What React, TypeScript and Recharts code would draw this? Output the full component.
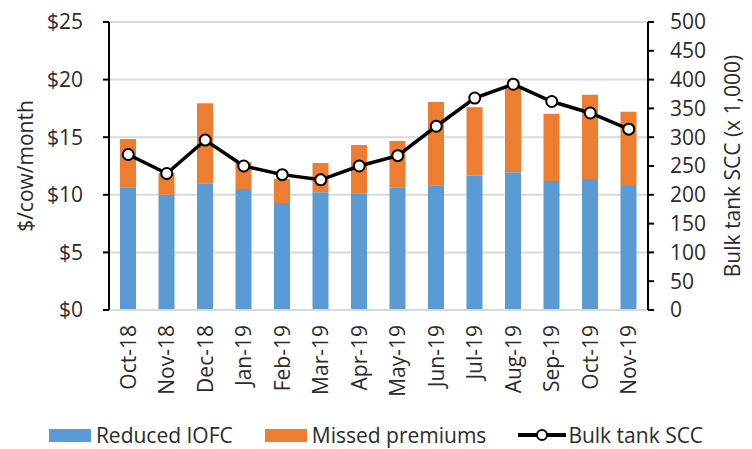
import React from 'react'
import { ComposedChart, Bar, Line, XAxis, YAxis, CartesianGrid, Legend } from 'recharts'

const months = ['Oct-18', 'Nov-18', 'Dec-18', 'Jan-19', 'Feb-19', 'Mar-19', 'Apr-19', 'May-19', 'Jun-19', 'Jul-19', 'Aug-19', 'Sep-19', 'Oct-19', 'Nov-19']
const reducedIOFC = [10.65, 10.0, 10.96, 10.5, 9.29, 10.22, 10.13, 10.65, 10.82, 11.66, 11.95, 11.2, 11.37, 10.76]
const missedPremiums = [4.19, 1.9, 6.98, 2.32, 2.08, 2.54, 4.19, 4.02, 7.24, 5.93, 7.29, 5.84, 7.32, 6.45]
const bulkTankSCC = [270, 237, 295, 250, 235, 226, 250, 268, 319, 368, 392, 362, 342, 314]

const leftTicks = [0, 5, 10, 15, 20, 25]
const rightTicks = [0, 50, 100, 150, 200, 250, 300, 350, 400, 450, 500]
const legendOrder = ['Reduced IOFC', 'Missed premiums', 'Bulk tank SCC']

const data = months.map((m, i) => ({
  month: m,
  reduced: reducedIOFC[i],
  missed: missedPremiums[i],
  scc: bulkTankSCC[i],
}))

const FONT = '"Open Sans", sans-serif'
const FS = 21
const TEXT = '#2b2b2b'
const BLUE = '#5B9BD5'
const ORANGE = '#ED7D31'

const MonthTick = (props: any) => {
  const { x, y, payload } = props
  return (
    <g transform={`translate(${x},${y + 7})`}>
      <text x={0} y={0} dy="0.35em" textAnchor="end" transform="rotate(-90)" fill={TEXT} fontSize={FS} fontFamily={FONT}>
        {payload.value}
      </text>
    </g>
  )
}

const axisTitle = (text: string, dx: number) => (props: any) => {
  const { viewBox } = props
  const cx = viewBox.x + dx
  const cy = viewBox.y + viewBox.height / 2
  return (
    <text x={cx} y={cy} textAnchor="middle" dominantBaseline="central" transform={`rotate(-90, ${cx}, ${cy})`} fill={TEXT} fontSize={FS} fontFamily={FONT}>
      {text}
    </text>
  )
}

const renderLegend = (props: any) => {
  const items = [...props.payload].sort((a: any, b: any) => legendOrder.indexOf(a.value) - legendOrder.indexOf(b.value))
  return (
    <div style={{ display: 'flex', justifyContent: 'center', alignItems: 'center', height: 28, fontFamily: FONT, fontSize: FS, color: TEXT }}>
      {items.map((entry: any, i: number) => (
        <div key={i} style={{ display: 'flex', alignItems: 'center', marginLeft: i === 0 ? 0 : 32 }}>
          {entry.type === 'line' ? (
            <svg width={48} height={14} style={{ marginRight: 2 }}>
              <line x1={0} y1={7} x2={48} y2={7} stroke="#000" strokeWidth={4} />
              <circle cx={24} cy={7} r={5} fill="#fff" stroke="#000" strokeWidth={2} />
            </svg>
          ) : (
            <div style={{ width: 42, height: 13, background: entry.color, marginRight: 5 }} />
          )}
          <span>{entry.value}</span>
        </div>
      ))}
    </div>
  )
}

export default function App() {
  return (
    <div style={{ position: 'absolute', left: 0, top: 0, width: 752, height: 449, background: '#fff' }}>
      <ComposedChart width={752} height={449} data={data} margin={{ top: 22, right: 0, bottom: 0, left: 0 }}>
        <CartesianGrid yAxisId="left" vertical={false} stroke="#d9d9d9" strokeWidth={2} />
        <XAxis
          dataKey="month"
          height={111}
          interval={0}
          tick={<MonthTick />}
          tickLine={false}
          axisLine={{ stroke: '#d9d9d9', strokeWidth: 2 }}
        />
        <YAxis
          yAxisId="left"
          width={109}
          domain={[0, 25]}
          ticks={leftTicks}
          interval={0}
          tickFormatter={(v: number) => `$${v}`}
          tick={{ fill: TEXT, fontSize: FS, fontFamily: FONT }}
          tickSize={6}
          tickMargin={20}
          tickLine={{ stroke: '#000', strokeWidth: 2 }}
          axisLine={{ stroke: '#000', strokeWidth: 2 }}
          label={{ content: axisTitle('$/cow/month', 25) } as any}
        />
        <YAxis
          yAxisId="right"
          orientation="right"
          width={104}
          domain={[0, 500]}
          ticks={rightTicks}
          interval={0}
          tick={{ fill: TEXT, fontSize: FS, fontFamily: FONT, textAnchor: 'start' }}
          tickSize={6}
          tickMargin={16}
          tickLine={{ stroke: '#000', strokeWidth: 2 }}
          axisLine={{ stroke: '#000', strokeWidth: 2 }}
          label={{ content: axisTitle('Bulk tank SCC (x 1,000)', 84) } as any}
        />
        <Legend verticalAlign="bottom" content={renderLegend} />
        <Bar yAxisId="left" dataKey="reduced" name="Reduced IOFC" stackId="a" fill={BLUE} barSize={16} isAnimationActive={false} />
        <Bar yAxisId="left" dataKey="missed" name="Missed premiums" stackId="a" fill={ORANGE} barSize={16} isAnimationActive={false} />
        <Line
          yAxisId="right"
          type="linear"
          dataKey="scc"
          name="Bulk tank SCC"
          stroke="#000"
          strokeWidth={3.5}
          dot={{ r: 5.5, fill: '#fff', stroke: '#000', strokeWidth: 2 }}
          isAnimationActive={false}
        />
      </ComposedChart>
    </div>
  )
}
